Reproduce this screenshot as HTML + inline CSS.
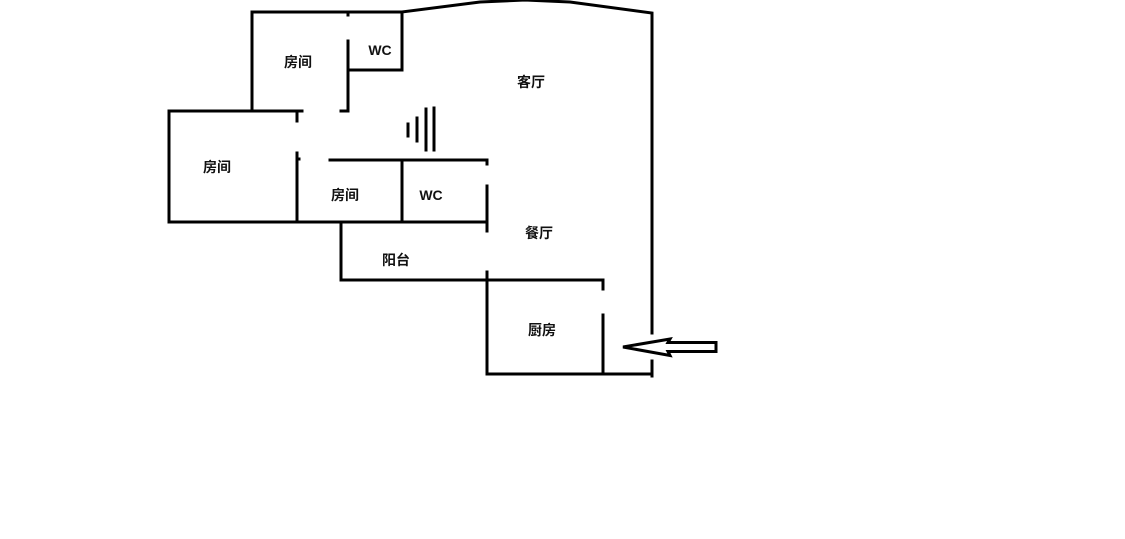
<!DOCTYPE html>
<html><head><meta charset="utf-8"><style>
body{margin:0;background:#fff;width:1125px;height:534px;overflow:hidden}
text{font-family:"Liberation Sans","Noto Sans CJK SC",sans-serif;font-weight:bold;font-size:14px;fill:#111}
</style></head><body>
<svg width="1125" height="534" viewBox="0 0 1125 534" xmlns="http://www.w3.org/2000/svg">
<g stroke="#000" stroke-width="3" fill="none" stroke-linecap="square">
<polyline points="252,110 252,12 402,12 402,70 348,70 348,41"/>
<line x1="348" y1="12" x2="348" y2="15"/>
<polyline points="348,70 348,111 341,111"/>
<polyline points="402,12 480,2 525,0 570,2 652,13 652,333"/>
<line x1="652" y1="361" x2="652" y2="376"/>
<polyline points="302,111 169,111 169,222 487,222"/>
<line x1="297" y1="111" x2="297" y2="121"/>
<line x1="297" y1="153" x2="297" y2="222"/>
<line x1="297" y1="159" x2="299" y2="159"/>
<polyline points="330,160 487,160 487,164"/>
<line x1="402" y1="160" x2="402" y2="222"/>
<line x1="487" y1="186" x2="487" y2="231"/>
<polyline points="341,222 341,280 603,280 603,289"/>
<polyline points="487,272 487,374 652,374"/>
<line x1="603" y1="315" x2="603" y2="374"/>
<line x1="408" y1="124" x2="408" y2="136"/>
<line x1="417" y1="118" x2="417" y2="141"/>
<line x1="426" y1="109" x2="426" y2="150"/>
<line x1="434" y1="108" x2="434" y2="150"/>
</g>
<polygon points="623,347 670,339 668,342.5 716,342.5 716,351.5 668,351.5 670,355.5" fill="#fff" stroke="#000" stroke-width="3" stroke-linejoin="miter"/>
<text x="298" y="67" text-anchor="middle">房间</text>
<text x="380" y="55" text-anchor="middle">WC</text>
<text x="531" y="87" text-anchor="middle">客厅</text>
<text x="217" y="172" text-anchor="middle">房间</text>
<text x="345" y="200" text-anchor="middle">房间</text>
<text x="431" y="200" text-anchor="middle">WC</text>
<text x="539" y="238" text-anchor="middle">餐厅</text>
<text x="396" y="265" text-anchor="middle">阳台</text>
<text x="542" y="335" text-anchor="middle">厨房</text>
</svg>
</body></html>
